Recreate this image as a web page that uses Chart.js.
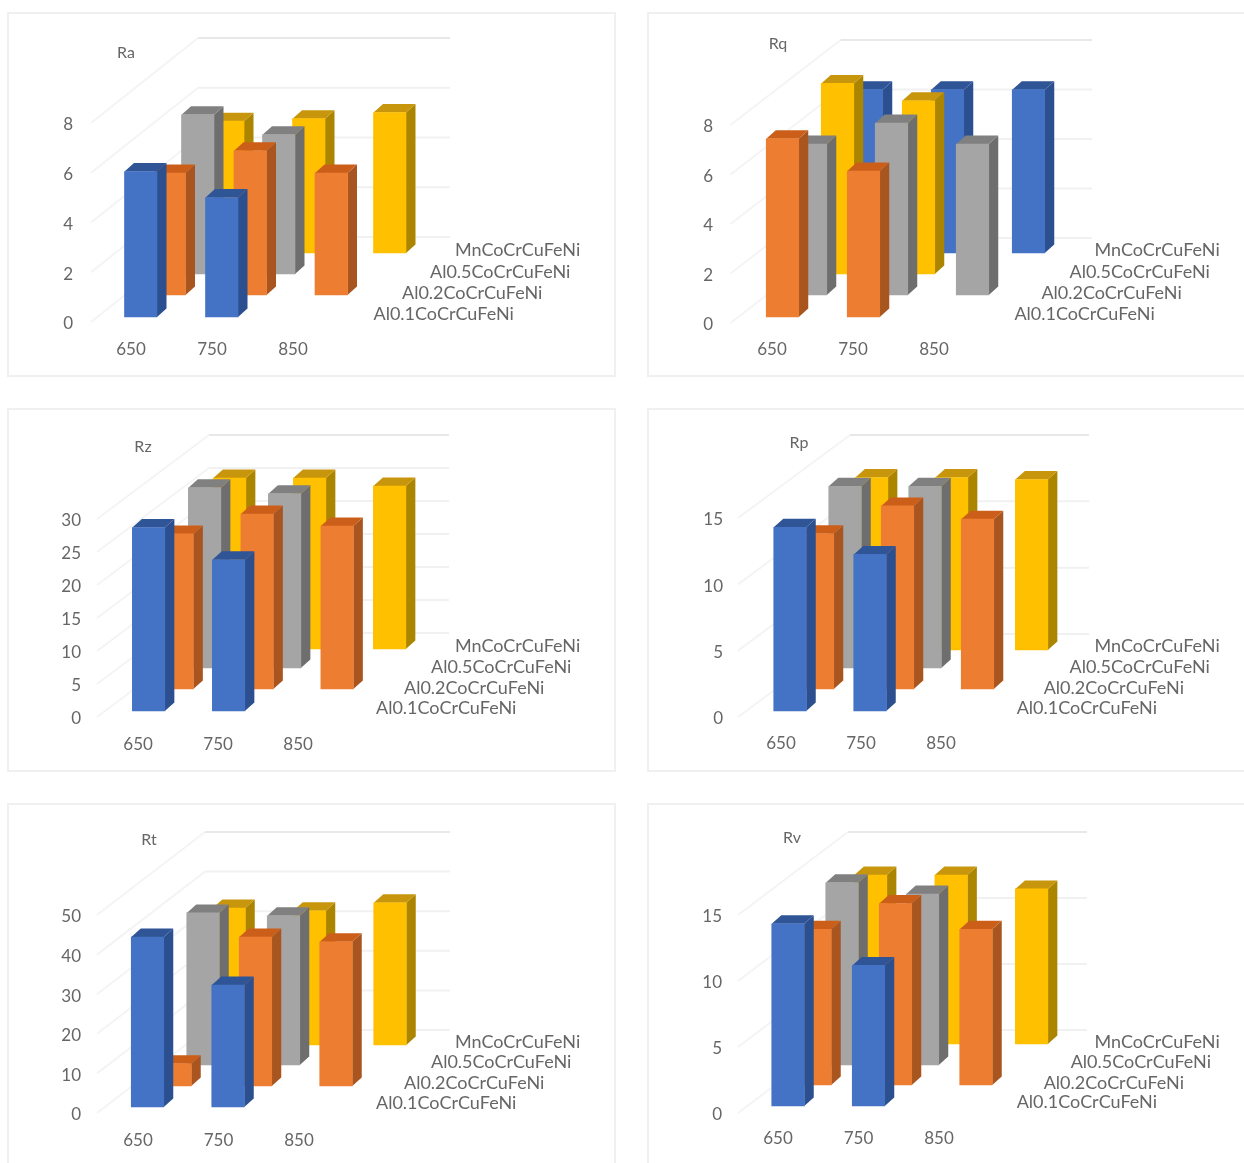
<!DOCTYPE html>
<html><head><meta charset="utf-8">
<style>
html,body{margin:0;padding:0;background:#fff;width:1244px;height:1163px;overflow:hidden}
canvas{position:absolute;display:block;box-sizing:border-box}
.box{position:absolute;box-sizing:border-box;border:2px solid #f0f0f0;background:#fff}
</style>
<script src="https://cdn.jsdelivr.net/npm/chart.js@4"></script>
</head><body>
<script>
const temperatures = ['650','750','850'];
const seriesNames = ['Al0.1CoCrCuFeNi','Al0.2CoCrCuFeNi','Al0.5CoCrCuFeNi','MnCoCrCuFeNi'];

const raAl01 = [5.85,4.8,null];
const raAl02 = [4.9,5.8,4.9];
const raAl05 = [6.4,5.6,null];
const raMn   = [5.3,5.4,5.65];

const rqAl01 = [7.2,5.9,null];
const rqAl02 = [6.1,6.95,6.1];
const rqAl05 = [7.7,7.0,null];
const rqMn   = [6.6,6.6,6.6];

const rzAl01 = [27.8,22.9,null];
const rzAl02 = [23.5,26.5,24.7];
const rzAl05 = [27.3,26.4,null];
const rzMn   = [25.9,25.9,24.7];

const rpAl01 = [13.85,11.8,null];
const rpAl02 = [11.7,13.8,12.8];
const rpAl05 = [13.7,13.7,null];
const rpMn   = [13.0,13.0,12.85];

const rtAl01 = [42.9,30.8,null];
const rtAl02 = [5.6,37.6,36.4];
const rtAl05 = [38.4,37.7,null];
const rtMn   = [34.6,33.9,35.9];

const rvAl01 = [13.8,10.65,null];
const rvAl02 = [11.8,13.75,11.8];
const rvAl05 = [13.8,12.95,null];
const rvMn   = [12.8,12.8,11.75];

const BLUE={front:'#4472C4',side:'#2C4F8F',top:'#2F5597'};
const ORANGE={front:'#ED7D31',side:'#A85520',top:'#CB5F1A'};
const GRAY={front:'#A5A5A5',side:'#6E6E6E',top:'#808080'};
const YELLOW={front:'#FFC000',side:'#AC8500',top:'#C8960C'};
const STD=[BLUE,ORANGE,GRAY,YELLOW];
const TEXT='#666666', FONT='Lato';

const panels=[
 {name:'Ra',vals:[raAl01,raAl02,raAl05,raMn],colors:STD,box:[7,12,609,365],cx0:140.75,sp:81,y0:322,yTop:123,max:8,step:2,
  xs:[0,28.5,57,87],bases:[317,295,274,253],wall:[91,107,85,450],title:[126,53],lab:[[373.5,314],[402,293],[430,272],[455,250]],tickR:73,xOff:-9.75,xY:348},
 {name:'Rq',vals:[rqAl01,rqAl02,rqAl05,rqMn],colors:[ORANGE,GRAY,YELLOW,BLUE],box:[647,12,620,365],cx0:782.5,sp:81,y0:323,yTop:125,max:8,step:2,
  xs:[0,28,55,84],bases:[317,295,274,253],wall:[730.5,110,85,1092],title:[778,44],lab:[[1014.4,314],[1041.4,293],[1069.5,272],[1094.5,250]],tickR:713,xOff:-10.5,xY:348},
 {name:'Rz',vals:[rzAl01,rzAl02,rzAl05,rzMn],colors:STD,box:[7,408,609,364],cx0:148.6,sp:80,y0:717,yTop:519,max:30,step:5,
  xs:[0,28.5,56,81],bases:[711,689,668,649],wall:[97,112,84,449],title:[143,447],lab:[[376,708],[404,688],[431,667],[455,646]],tickR:81,xOff:-10.5,xY:743},
 {name:'Rp',vals:[rpAl01,rpAl02,rpAl05,rpMn],colors:STD,box:[647,408,620,364],cx0:790,sp:80,y0:717,yTop:518,max:15,step:5,
  xs:[0,27.5,55,81.6],bases:[711,689,668,650],wall:[738,112,83,1089],title:[799,443],lab:[[1016.7,708],[1043.7,688],[1069.5,667],[1094.5,646]],tickR:723,xOff:-9,xY:742},
 {name:'Rt',vals:[rtAl01,rtAl02,rtAl05,rtMn],colors:STD,box:[7,803,609,380],cx0:147.5,sp:80.5,y0:1113,yTop:915,max:50,step:10,
  xs:[0,27.5,55.5,81.5],bases:[1107,1086,1065,1045],wall:[97,108,83,450],title:[149,840],lab:[[376,1103],[404,1083],[431,1062],[455,1042]],tickR:81,xOff:-9.5,xY:1139},
 {name:'Rv',vals:[rvAl01,rvAl02,rvAl05,rvMn],colors:STD,box:[647,803,620,380],cx0:788,sp:80.5,y0:1113,yTop:915,max:15,step:5,
  xs:[0,27,54,82.6],bases:[1106,1085,1065,1044],wall:[738,110,83,1087],title:[792,838],lab:[[1016.7,1102],[1043.7,1083],[1070.7,1062],[1094.5,1042]],tickR:722,xOff:-10,xY:1137}
];

const BAR_W=32.5, DEPTH_X=9.5, DEPTH_Y=8.5;

const depth3d={
 id:'depth3d',
 beforeDatasetsDraw(chart,args,opt){
  const {ctx}=chart, p=opt.panel, y=chart.scales.y, ox=p.box[0], [wx,wdx,wdy,wEnd]=p.wall;
  ctx.save();
  ctx.lineWidth=2;
  for(let v=0;v<=p.max;v+=p.step){
    const py=y.getPixelForValue(v);
    ctx.strokeStyle='#f4f4f4';
    ctx.beginPath();
    ctx.moveTo(wx-ox,py);
    ctx.lineTo(wx-ox+wdx,py-wdy);
    ctx.stroke();
    ctx.strokeStyle=v===p.max?'#e8e8e8':'#f1f1f1';
    ctx.beginPath();
    ctx.moveTo(wx-ox+wdx,py-wdy);
    ctx.lineTo(wEnd-ox,py-wdy);
    ctx.stroke();
  }
  ctx.restore();
 },
 beforeDatasetDraw(chart,args,opt){
  const {ctx}=chart, p=opt.panel, i=args.index, meta=args.meta;
  const dy=p.bases[i]-p.y0, c=p.colors[i];
  ctx.save();
  ctx.translate(p.xs[i],dy);
  meta.data.forEach((el,j)=>{
    if(chart.data.datasets[i].data[j]==null) return;
    const r=el.x+el.width/2, l=el.x-el.width/2, t=el.y, b=el.base;
    ctx.fillStyle=c.side;
    ctx.beginPath();ctx.moveTo(r,t);ctx.lineTo(r+DEPTH_X,t-DEPTH_Y);ctx.lineTo(r+DEPTH_X,b-DEPTH_Y);ctx.lineTo(r,b);ctx.closePath();ctx.fill();
    ctx.fillStyle=c.top;
    ctx.beginPath();ctx.moveTo(l,t);ctx.lineTo(l+DEPTH_X,t-DEPTH_Y);ctx.lineTo(r+DEPTH_X,t-DEPTH_Y);ctx.lineTo(r,t);ctx.closePath();ctx.fill();
  });
 },
 afterDatasetDraw(chart){ chart.ctx.restore(); },
 afterDraw(chart,args,opt){
  const {ctx}=chart, p=opt.panel;
  ctx.save();
  ctx.fillStyle=TEXT;
  ctx.textBaseline='middle';ctx.textAlign='left';
  ctx.font='18px '+FONT;
  seriesNames.forEach((n,i)=>ctx.fillText(n,p.lab[i][0]-p.box[0],p.lab[i][1]-p.box[1]));
  ctx.textAlign='center';
  ctx.font='16px '+FONT;
  ctx.fillText(p.name,p.title[0]-p.box[0],p.title[1]-p.box[1]);
  ctx.restore();
 }
};

panels.forEach(p=>{
 const [bx,by,bw,bh]=p.box;
 const box=document.createElement('div');
 box.className='box';
 box.style.cssText=`left:${bx}px;top:${by}px;width:${bw}px;height:${bh}px`;
 document.body.appendChild(box);
 const cv=document.createElement('canvas');
 cv.width=bw;cv.height=bh;
 cv.style.cssText=`left:${bx}px;top:${by}px;width:${bw}px;height:${bh}px`;
 document.body.appendChild(cv);
 const areaL=p.cx0-p.sp/2-bx, areaR=p.cx0+2.5*p.sp-bx, areaB=p.y0-by, areaT=p.yTop-by;
 new Chart(cv,{
  type:'bar',
  data:{labels:temperatures,datasets:p.vals.map((v,i)=>({label:seriesNames[i],data:v,backgroundColor:p.colors[i].front,borderWidth:0,barThickness:BAR_W,grouped:false,clip:false}))},
  plugins:[depth3d],
  options:{
   responsive:false,animation:false,
   layout:{padding:{left:0,top:areaT,right:bw-areaR,bottom:0}},
   plugins:{legend:{display:false},tooltip:{enabled:false},title:{display:false},depth3d:{panel:p}},
   scales:{
    x:{type:'category',offset:true,
       afterFit:s=>{s.height=bh-areaB;},
       grid:{display:false,drawTicks:false},border:{display:false},
       ticks:{color:TEXT,font:{family:FONT,size:17},padding:p.xY-p.y0-9,labelOffset:p.xOff,maxRotation:0,autoSkip:false}},
    y:{type:'linear',min:0,max:p.max,
       afterFit:s=>{s.width=areaL;},
       grid:{display:false,drawTicks:false},border:{display:false},
       ticks:{color:TEXT,font:{family:FONT,size:17},stepSize:p.step,labelOffset:2,padding:p.cx0-p.sp/2-p.tickR}}
   }
  }
 });
});
</script>
</body></html>
